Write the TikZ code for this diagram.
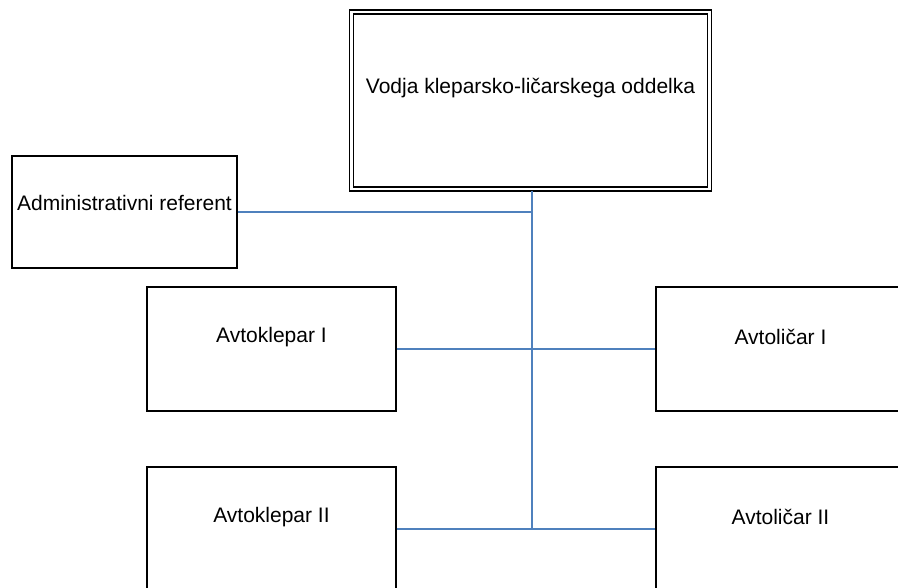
\documentclass[tikz,border=0pt]{standalone}
\usepackage{fontspec}
\setmainfont{Liberation Sans}
\begin{document}
\begin{tikzpicture}[x=1pt,y=-1pt,
  box/.style={draw=black, line width=1.3pt, fill=white, inner sep=0pt},
  lbl/.style={font=\fontsize{21}{25}\selectfont, inner sep=0pt},
  link/.style={draw={rgb,255:red,79;green,129;blue,189}, line width=1.5pt}]
\useasboundingbox (0,0) rectangle (898,588);
\clip (0,0) rectangle (898,588);

% head of department, double frame
\node[box, double, double distance=2.6pt, minimum width=358pt, minimum height=177pt] (top) at (530.5,100.5) {};
\node[lbl] (topL) at ([yshift=12.5pt]top.center) {Vodja kleparsko-ličarskega oddelka};

% staff boxes
\node[box, minimum width=225pt, minimum height=112pt] (adm) at (124.5,212) {};
\node[lbl] (admL) at ([yshift=9pt]adm.center) {Administrativni referent};

\node[box, minimum width=249pt, minimum height=124pt] (kl1) at (271.5,349) {};
\node[lbl] (kl1L) at ([yshift=12pt]kl1.center) {Avtoklepar I};

\node[box, minimum width=249pt, minimum height=124pt] (li1) at (780.5,349) {};
\node[lbl] (li1L) at ([yshift=12pt]li1.center) {Avtoličar I};

\node[box, minimum width=249pt, minimum height=124pt] (kl2) at (271.5,529) {};
\node[lbl] (kl2L) at ([yshift=12pt]kl2.center) {Avtoklepar II};

\node[box, minimum width=249pt, minimum height=124pt] (li2) at (780.5,529) {};
\node[lbl] (li2L) at ([yshift=12pt]li2.center) {Avtoličar II};

% connectors
\coordinate (trunk) at ([xshift=1.5pt]top.south);
\draw[link] ([yshift=-1pt]trunk) -- (trunk |- kl2.east);
\draw[link] (adm.east) -- (adm.east -| trunk);
\draw[link] (kl1.east) -- (li1.west);
\draw[link] (kl2.east) -- (li2.west);
\end{tikzpicture}
\end{document}
